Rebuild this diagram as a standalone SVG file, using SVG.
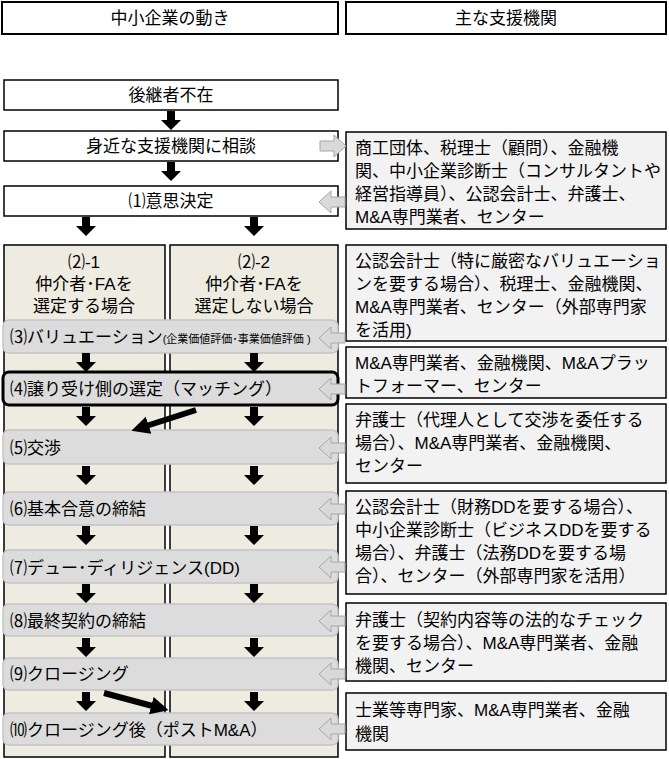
<svg xmlns="http://www.w3.org/2000/svg" width="669" height="759" viewBox="0 0 669 759">
<style>
text{font-family:"Liberation Sans","Noto Sans CJK JP",sans-serif;font-size:17px;fill:#000}
.hd{fill:#fff;stroke:#000;stroke-width:2}
.wb{fill:#fff;stroke:#000;stroke-width:1.5}
.col{fill:#eeebe1;stroke:#000;stroke-width:1.5}
.bar{fill:#dcdcdc;stroke:#c4c4c4;stroke-width:1.5}
.rb{fill:#f2f2f2;stroke:#000;stroke-width:1.5}
.ha{fill:#d9d9d9;stroke:#a6a6a6;stroke-width:1}
.c{text-anchor:middle}
</style>
<defs>
<marker id="ah" markerWidth="3" markerHeight="3" refX="1.5" refY="1.5" orient="auto" markerUnits="strokeWidth"><path d="M0,0L3,1.5L0,3z" fill="#000"/></marker>
<path id="dn" d="M-4,0h8v9h6l-10,10l-10,-10h6z" fill="#000"/>
<path id="la" d="M0,0l12,-11v6h14v10h-14v6z" class="ha"/>
</defs>
<g id="header-left"><rect class="hd" x="2" y="2" width="336" height="32"/><text class="c" x="170" y="24">中小企業の動き</text></g>
<g id="header-right"><rect class="hd" x="346" y="2" width="320" height="32"/><text class="c" x="506" y="24">主な支援機関</text></g>
<g id="n0"><rect class="wb" x="4" y="80" width="334" height="30"/><text class="c" x="171" y="101">後継者不在</text></g>
<g id="n1"><rect class="wb" x="4" y="131" width="334" height="30"/><text class="c" x="171" y="152">身近な支援機関に相談</text></g>
<g id="n2"><rect class="wb" x="4" y="186" width="334" height="30"/><text class="c" x="171" y="207">⑴意思決定</text></g>
<g id="colL"><rect class="col" x="4" y="245" width="161" height="512"/><text class="c" x="84" y="268">⑵-1</text><text class="c" x="84" y="290">仲介者･FAを</text><text class="c" x="84" y="312">選定する場合</text></g>
<g id="colR"><rect class="col" x="170" y="245" width="168" height="512"/><text class="c" x="254" y="268">⑵-2</text><text class="c" x="254" y="290">仲介者･FAを</text><text class="c" x="254" y="312">選定しない場合</text></g>
<g id="s3"><rect class="bar" x="3" y="320" width="335" height="33" rx="6"/><text x="10" y="343">⑶バリュエーション<tspan font-size="11">(企業価値評価･事業価値評価 )</tspan></text></g>
<g id="s4"><rect x="3" y="372" width="335" height="33" rx="6" fill="#dcdcdc" stroke="#000" stroke-width="3"/><text x="10" y="395">⑷譲り受け側の選定（マッチング）</text></g>
<g id="s5"><rect class="bar" x="3" y="430" width="335" height="34" rx="6"/><text x="10" y="454">⑸交渉</text></g>
<g id="s6"><rect class="bar" x="3" y="492" width="335" height="33" rx="6"/><text x="10" y="515">⑹基本合意の締結</text></g>
<g id="s7"><rect class="bar" x="3" y="550" width="335" height="33" rx="6"/><text x="10" y="574">⑺デュー･ディリジェンス(DD)</text></g>
<g id="s8"><rect class="bar" x="3" y="604" width="335" height="32" rx="6"/><text x="10" y="627">⑻最終契約の締結</text></g>
<g id="s9"><rect class="bar" x="3" y="658" width="335" height="32" rx="6"/><text x="10" y="680">⑼クロージング</text></g>
<g id="s10"><rect class="bar" x="3" y="713" width="335" height="32" rx="6"/><text x="10" y="736">⑽クロージング後（ポストM&amp;A）</text></g>
<g id="r1"><rect class="rb" x="346" y="132" width="320" height="97"/><text x="355" y="154">商工団体、税理士（顧問）、金融機</text><text x="355" y="177">関、中小企業診断士（コンサルタントや</text><text x="355" y="200">経営指導員）、公認会計士、弁護士、</text><text x="355" y="223">M&amp;A専門業者、センター</text></g>
<g id="r2"><rect class="rb" x="346" y="245" width="320" height="96"/><text x="355" y="267">公認会計士（特に厳密なバリュエーショ</text><text x="355" y="290">ンを要する場合）、税理士、金融機関、</text><text x="355" y="313">M&amp;A専門業者、センター（外部専門家</text><text x="355" y="336">を活用)</text></g>
<g id="r3"><rect class="rb" x="346" y="347" width="320" height="51"/><text x="355" y="369">M&amp;A専門業者、金融機関、M&amp;Aプラッ</text><text x="355" y="392">トフォーマー、センター</text></g>
<g id="r4"><rect class="rb" x="346" y="404" width="320" height="79"/><text x="355" y="426">弁護士（代理人として交渉を委任する</text><text x="355" y="449">場合）、M&amp;A専門業者、金融機関、</text><text x="355" y="472">センター</text></g>
<g id="r5"><rect class="rb" x="346" y="491" width="320" height="103"/><text x="355" y="513">公認会計士（財務DDを要する場合）、</text><text x="355" y="536">中小企業診断士（ビジネスDDを要する</text><text x="355" y="559">場合）、弁護士（法務DDを要する場</text><text x="355" y="582">合）、センター（外部専門家を活用）</text></g>
<g id="r6"><rect class="rb" x="346" y="603" width="320" height="78"/><text x="355" y="626">弁護士（契約内容等の法的なチェック</text><text x="355" y="649">を要する場合）、M&amp;A専門業者、金融</text><text x="355" y="672">機関、センター</text></g>
<g id="r7"><rect class="rb" x="346" y="693" width="320" height="57"/><text x="355" y="716">士業等専門家、M&amp;A専門業者、金融</text><text x="355" y="740">機関</text></g>
<g id="connectors">
<use href="#dn" x="171" y="111"/><use href="#dn" x="171" y="162"/>
<use href="#dn" x="86" y="217"/><use href="#dn" x="254" y="217"/>
<use href="#dn" x="86" y="353"/><use href="#dn" x="254" y="353"/>
<use href="#dn" x="86" y="407"/><use href="#dn" x="254" y="407"/>
<use href="#dn" x="86" y="466"/><use href="#dn" x="254" y="466"/>
<use href="#dn" x="86" y="526"/><use href="#dn" x="254" y="526"/>
<use href="#dn" x="86" y="584"/><use href="#dn" x="254" y="584"/>
<use href="#dn" x="86" y="638"/><use href="#dn" x="254" y="638"/>
<use href="#dn" x="86" y="692"/><use href="#dn" x="254" y="692"/>
<line x1="196" y1="410" x2="140" y2="428" stroke="#000" stroke-width="6" marker-end="url(#ah)"/>
<line x1="104" y1="693" x2="160" y2="708" stroke="#000" stroke-width="6" marker-end="url(#ah)"/>
<path d="M346,146l-12,-11v6h-14v10h14v6z" class="ha"/>
<use href="#la" x="319" y="202"/><use href="#la" x="319" y="338"/><use href="#la" x="319" y="389"/>
<use href="#la" x="319" y="448"/><use href="#la" x="319" y="509"/><use href="#la" x="319" y="567"/>
<use href="#la" x="319" y="621"/><use href="#la" x="319" y="674"/><use href="#la" x="319" y="729"/>
</g>
</svg>
